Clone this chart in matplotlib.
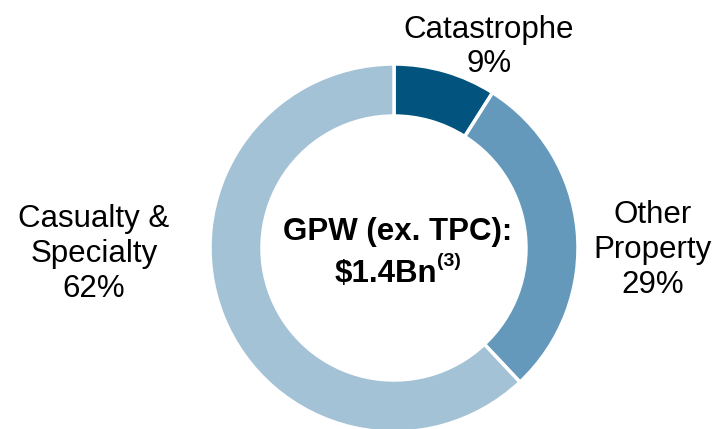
import matplotlib.pyplot as plt

plt.rcParams['font.family'] = ['Liberation Sans', 'DejaVu Sans']

segments = ['Catastrophe', 'Other\nProperty', 'Casualty &\nSpecialty']
shares = [9, 29, 62]
colors = ['#02547E', '#6599BC', '#A3C2D6']

W, H = 716, 429
fig = plt.figure(figsize=(W / 100, H / 100), dpi=100)
ax = fig.add_axes([0, 0, 1, 1])

cx, cy, r = 394, H - 248, 184
ax.pie(shares, colors=colors, startangle=90, counterclock=False,
       center=(cx, cy), radius=r, frame=True,
       wedgeprops=dict(width=52, edgecolor='white', linewidth=2.5))
ax.set_xlim(0, W)
ax.set_ylim(0, H)
ax.axis('off')

# segment labels
lab_pos = [(489, H - 47), (653, H - 250), (94, H - 254)]
for name, val, (x, y) in zip(segments, shares, lab_pos):
    ax.text(x, y, f"{name}\n{val}%", ha='center', va='center',
            fontsize=22.5, linespacing=1.2, color='black')

# centre text
ax.text(398, H - 232, 'GPW (ex. TPC):', ha='center', va='center',
        fontsize=22.5, fontweight='bold')
ax.text(437, H - 274, '$1.4Bn', ha='right', va='center',
        fontsize=22.5, fontweight='bold')
ax.text(437, H - 262, '(3)', ha='left', va='center',
        fontsize=14, fontweight='bold')

fig.savefig('out.png', dpi=100)
